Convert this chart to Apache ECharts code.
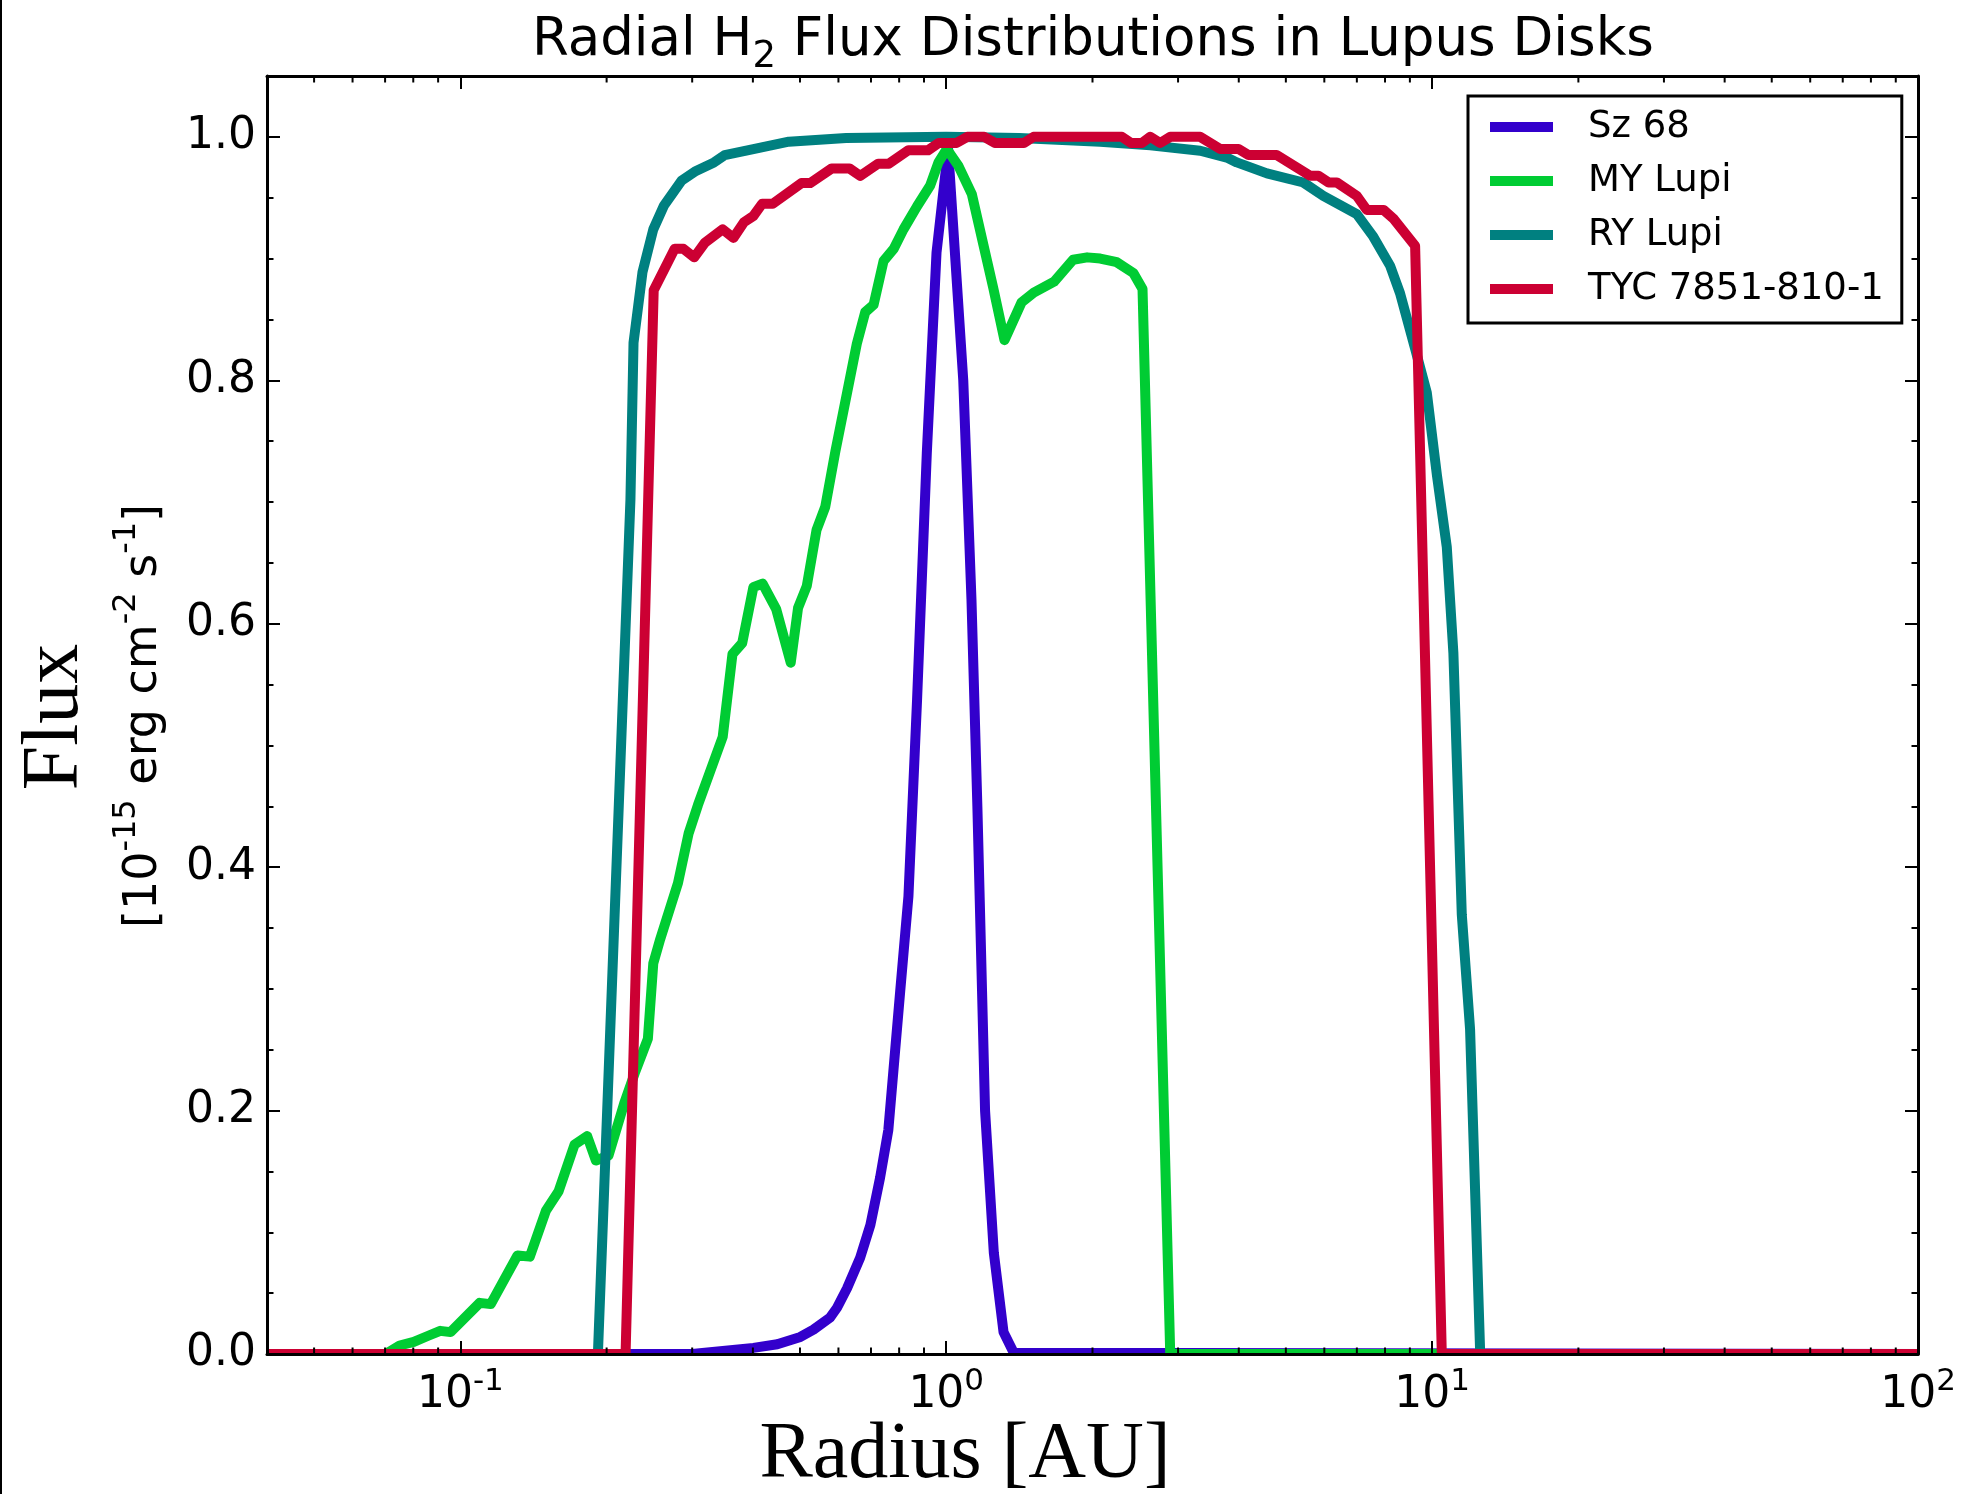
<!DOCTYPE html>
<html><head><meta charset="utf-8">
<script src="https://cdn.jsdelivr.net/npm/echarts@6/dist/echarts.min.js"></script>
<style>html,body{margin:0;padding:0;background:#fff}#c{width:1964px;height:1494px}</style>
</head><body><div id="c"></div>
<script>
// ---------------- data ----------------
const seriesNames = ['Sz 68', 'MY Lupi', 'RY Lupi', 'TYC 7851-810-1'];
const seriesColors = ['#3300cc', '#00cc33', '#008080', '#cc0033'];

const sz68R = [0.04, 0.30, 0.401, 0.449, 0.501, 0.533, 0.577, 0.596, 0.625, 0.665, 0.698, 0.731, 0.760, 0.804, 0.836, 0.871, 0.912, 0.955, 1.009, 1.084, 1.127, 1.159, 1.202, 1.253, 1.312, 1.377, 100];
const sz68F = [0, 0, 0.005, 0.008, 0.014, 0.020, 0.030, 0.038, 0.054, 0.079, 0.106, 0.145, 0.184, 0.298, 0.376, 0.538, 0.740, 0.905, 0.990, 0.80, 0.62, 0.45, 0.20, 0.083, 0.018, 0.001, 0];

const myLupiR = [0.04, 0.0702, 0.0750, 0.0802, 0.0859, 0.0909, 0.0955, 0.1096, 0.1155, 0.1311, 0.1390, 0.1501, 0.1592, 0.1718, 0.1824, 0.1901, 0.2018, 0.2178, 0.2291, 0.2432, 0.2495, 0.2579, 0.2805, 0.2951, 0.3083, 0.3467, 0.3631, 0.3802, 0.4009, 0.4188, 0.4467, 0.4786, 0.4955, 0.5164, 0.5408, 0.5636, 0.5916, 0.6252, 0.6546, 0.6812, 0.7087, 0.7430, 0.7798, 0.8166, 0.8710, 0.9268, 0.9638, 1.003, 1.060, 1.129, 1.193, 1.251, 1.318, 1.429, 1.514, 1.667, 1.824, 1.950, 2.075, 2.244, 2.429, 2.535, 2.891, 100];
const myLupiF = [0, 0, 0.007, 0.010, 0.015, 0.019, 0.018, 0.042, 0.041, 0.081, 0.080, 0.118, 0.1335, 0.172, 0.179, 0.159, 0.163, 0.207, 0.232, 0.259, 0.321, 0.341, 0.387, 0.428, 0.451, 0.507, 0.575, 0.584, 0.630, 0.633, 0.612, 0.568, 0.613, 0.631, 0.677, 0.696, 0.742, 0.790, 0.830, 0.856, 0.862, 0.898, 0.908, 0.924, 0.943, 0.960, 0.979, 0.990, 0.976, 0.953, 0.911, 0.875, 0.833, 0.864, 0.872, 0.881, 0.899, 0.901, 0.900, 0.897, 0.888, 0.875, 0, 0];

const ryLupiR = [0.04, 0.1919, 0.2239, 0.2272, 0.2371, 0.2495, 0.2624, 0.2853, 0.3055, 0.3327, 0.3500, 0.4009, 0.4742, 0.6223, 1.0, 1.413, 2.075, 2.630, 3.332, 3.780, 3.963, 4.571, 5.433, 5.970, 6.998, 7.568, 8.197, 8.590, 9.226, 9.750, 10.23, 10.72, 11.06, 11.51, 11.97, 12.56, 100];
const ryLupiF = [0, 0, 0.702, 0.831, 0.889, 0.924, 0.9435, 0.964, 0.972, 0.979, 0.985, 0.990, 0.996, 0.999, 1.0, 0.999, 0.996, 0.993, 0.9886, 0.983, 0.979, 0.970, 0.9625, 0.9515, 0.9365, 0.918, 0.894, 0.8715, 0.826, 0.790, 0.722, 0.663, 0.576, 0.361, 0.267, 0, 0];

const tycR = [0.04, 0.2188, 0.2500, 0.2761, 0.2879, 0.3029, 0.3186, 0.3467, 0.3648, 0.3837, 0.4009, 0.4178, 0.4395, 0.5035, 0.5248, 0.5809, 0.6324, 0.6653, 0.7244, 0.7621, 0.8361, 0.9177, 0.9656, 1.050, 1.105, 1.197, 1.259, 1.445, 1.512, 2.299, 2.399, 2.527, 2.629, 2.756, 2.891, 3.332, 3.664, 3.996, 4.188, 4.786, 5.610, 5.834, 6.124, 6.368, 6.998, 7.337, 7.943, 8.318, 9.226, 10.47, 100];
const tycF = [0, 0, 0.874, 0.908, 0.908, 0.901, 0.913, 0.924, 0.917, 0.930, 0.935, 0.945, 0.945, 0.962, 0.962, 0.974, 0.974, 0.968, 0.978, 0.978, 0.989, 0.989, 0.995, 0.995, 1.0, 1.0, 0.995, 0.995, 1.0, 1.0, 0.995, 0.995, 1.0, 0.995, 1.0, 1.0, 0.990, 0.990, 0.985, 0.985, 0.968, 0.968, 0.9625, 0.9625, 0.9515, 0.940, 0.940, 0.933, 0.9105, 0, 0];

// ticks
const xTickValues = [0.1, 1, 10, 100];
const xTickExponents = ['-1', '0', '1', '2'];
const xMinorTicks = [0.05, 0.06, 0.07, 0.08, 0.09, 0.2, 0.3, 0.4, 0.5, 0.6, 0.7, 0.8, 0.9, 2, 3, 4, 5, 6, 7, 8, 9, 20, 30, 40, 50, 60, 70, 80, 90];
const yTickValues = [0, 0.2, 0.4, 0.6, 0.8, 1.0];
const yTickLabels = ['0.0', '0.2', '0.4', '0.6', '0.8', '1.0'];

// ---------------- chart ----------------
const zip = (r, f) => r.map((v, i) => [v, f[i]]);
const seriesData = [zip(sz68R, sz68F), zip(myLupiR, myLupiF), zip(ryLupiR, ryLupiF), zip(tycR, tycF)];

const chart = echarts.init(document.getElementById('c'), null, {renderer: 'canvas'});
const X0 = 267, Y0 = 76, X1 = 1918, Y1 = 1354;
const sans = 'DejaVu Sans';
const spine = {show: true, onZero: false, lineStyle: {color: '#000', width: 3}};
const majorTick = {show: true, inside: true, length: 13, lineStyle: {color: '#000', width: 2}};
const minorTick = {show: true, inside: true, length: 6.5, lineStyle: {color: '#000', width: 2}};

function xLabel(v) {
  for (let i = 0; i < xTickValues.length; i++) {
    if (Math.abs(v / xTickValues[i] - 1) < 1e-6) return '{b|10}{s|' + xTickExponents[i] + '}';
  }
  return '';
}
function yLabel(v) {
  for (let i = 0; i < yTickValues.length; i++) {
    if (Math.abs(v - yTickValues[i]) < 1e-6) return yTickLabels[i];
  }
  return '';
}

const yMajor = (pos, labels) => ({
  type: 'value', min: 0, max: 1.05, interval: 0.2, position: pos, z: 10,
  axisLine: spine, axisTick: majorTick, splitLine: {show: false},
  axisLabel: {show: labels, formatter: yLabel, showMaxLabel: false, margin: 11,
    color: '#000', fontSize: 44, fontFamily: sans}
});
const yMinor = (pos) => ({
  type: 'value', min: 0, max: 1.05, interval: 0.05, position: pos, z: 10,
  axisLine: {show: false}, axisTick: minorTick, splitLine: {show: false},
  axisLabel: {show: false}
});

const option = {
  animation: false,
  backgroundColor: '#fff',
  grid: {left: X0, top: Y0, right: 1964 - X1, bottom: 1494 - Y1, containLabel: false, outerBoundsMode: 'none'},
  xAxis: [
    {type: 'log', logBase: 10, min: 0.04, max: 100, position: 'bottom', z: 10,
     axisLine: spine, axisTick: majorTick, splitLine: {show: false},
     axisLabel: {formatter: xLabel, showMinLabel: false, margin: 12, color: '#000',
       rich: {
         b: {fontSize: 44, fontFamily: sans, color: '#000', lineHeight: 52, verticalAlign: 'bottom'},
         s: {fontSize: 31, fontFamily: sans, color: '#000', lineHeight: 30, verticalAlign: 'top'}
       }}},
    {type: 'log', logBase: 10, min: 0.04, max: 100, position: 'top', z: 10,
     axisLine: spine, axisTick: majorTick, splitLine: {show: false}, axisLabel: {show: false}}
  ],
  yAxis: [yMajor('left', true), yMinor('left'), yMajor('right', false), yMinor('right')],
  legend: {
    orient: 'vertical', left: 1468, top: 96, padding: [11, 18, 14, 22],
    itemWidth: 63, itemHeight: 10, itemGap: 14, icon: 'rect', selectedMode: false,
    borderColor: '#000', borderWidth: 3, borderRadius: 0, backgroundColor: '#fff',
    textStyle: {fontSize: 37, fontFamily: sans, color: '#000', lineHeight: 40, padding: [0, 0, 0, 30]},
    data: seriesNames, z: 20
  },
  series: seriesNames.map((n, i) => ({
    name: n, type: 'line', data: seriesData[i], xAxisIndex: 0, yAxisIndex: 0,
    symbol: 'none', showSymbol: false, color: seriesColors[i],
    lineStyle: {color: seriesColors[i], width: 10, join: 'round', cap: 'butt'},
    z: 2 + i * 0.01
  })).concat([{
    type: 'custom', name: 'xminor', xAxisIndex: 0, yAxisIndex: 0, z: 10, silent: true,
    data: xMinorTicks.map(v => [v, 0]),
    encode: {x: 0, y: 1},
    renderItem: function (params, api) {
      const v = api.value(0);
      const b = api.coord([v, 0]);
      const t = api.coord([v, 1.05]);
      return {type: 'group', children: [
        {type: 'line', shape: {x1: b[0], y1: b[1], x2: b[0], y2: b[1] - 6.5}, style: {stroke: '#000', lineWidth: 2}},
        {type: 'line', shape: {x1: t[0], y1: t[1], x2: t[0], y2: t[1] + 6.5}, style: {stroke: '#000', lineWidth: 2}}
      ]};
    }
  }]),
  graphic: [
    {type: 'rect', shape: {x: 0, y: 0, width: 2, height: 1494}, style: {fill: '#000'}, z: 30},
    {type: 'rect', shape: {x: 250, y: Y1 + 1.5, width: 1690, height: 8}, style: {fill: '#fff'}, z: 3},
    {type: 'text', x: 1093, y: 41, z: 30, style: {
      text: '{a|Radial H}{b|2}{a| Flux Distributions in Lupus Disks}',
      align: 'center', verticalAlign: 'middle', textAlign: 'center', textVerticalAlign: 'middle',
      rich: {
        a: {fontSize: 53, fontFamily: sans, fill: '#000', color: '#000', lineHeight: 70, verticalAlign: 'middle'},
        b: {fontSize: 37, fontFamily: sans, fill: '#000', color: '#000', lineHeight: 38, verticalAlign: 'bottom'}
      }}},
    {type: 'text', x: 965, y: 1456, z: 30, style: {
      text: 'Radius [AU]', font: '80px "Liberation Serif"', fill: '#000',
      align: 'center', verticalAlign: 'middle', textAlign: 'center', textVerticalAlign: 'middle'}},
    {type: 'text', x: 56, y: 717, rotation: Math.PI / 2, z: 30, style: {
      text: 'Flux', font: '80px "Liberation Serif"', fill: '#000',
      align: 'center', verticalAlign: 'middle', textAlign: 'center', textVerticalAlign: 'middle'}},
    {type: 'text', x: 139, y: 716, rotation: Math.PI / 2, z: 30, style: {
      text: '{a|[10}{s|-15}{a| erg cm}{s|-2}{a| s}{s|-1}{a|]}',
      align: 'center', verticalAlign: 'middle', textAlign: 'center', textVerticalAlign: 'middle',
      rich: {
        a: {fontSize: 46, fontFamily: sans, fill: '#000', color: '#000', lineHeight: 56, verticalAlign: 'bottom'},
        s: {fontSize: 32, fontFamily: sans, fill: '#000', color: '#000', lineHeight: 32, verticalAlign: 'top'}
      }}}
  ]
};
chart.setOption(option);
</script></body></html>
